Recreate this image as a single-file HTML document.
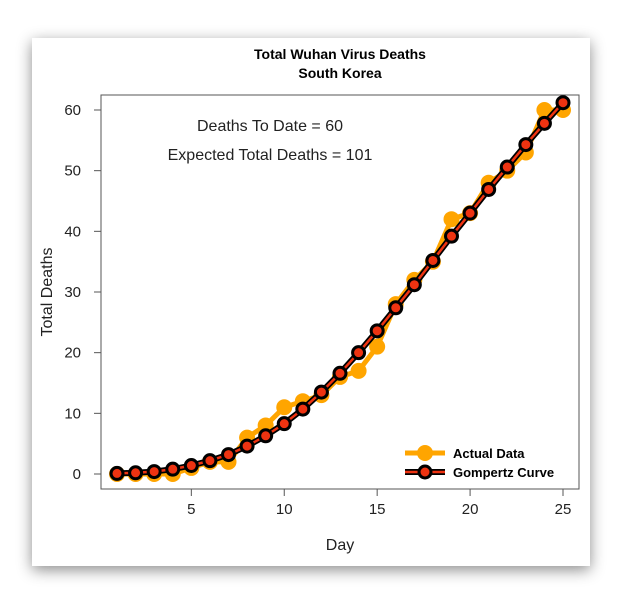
<!DOCTYPE html>
<html><head><meta charset="utf-8"><style>
body{margin:0;background:#fff;width:624px;height:600px;overflow:hidden;font-family:"Liberation Sans",sans-serif}
#card{position:absolute;left:32px;top:38px;width:558px;height:528px;background:#fff;box-shadow:0 4px 14px rgba(0,0,0,0.45)}
svg{position:absolute;left:0;top:0}
</style></head><body>
<div id="card"></div>
<svg id="chart" width="624" height="600"></svg>
<script>
const days=[1,2,3,4,5,6,7,8,9,10,11,12,13,14,15,16,17,18,19,20,21,22,23,24,25];
const actual=[0,0,0,0,1,2,2,6,8,11,12,13,16,17,21,28,32,35,42,43,48,50,53,60,60];
const gompertz=[0.1,0.2,0.4,0.8,1.4,2.2,3.2,4.6,6.3,8.3,10.7,13.5,16.6,20.0,23.6,27.4,31.2,35.2,39.2,43.0,46.9,50.6,54.3,57.8,61.2];
const xTicks=[5,10,15,20,25];
const yTicks=[0,10,20,30,40,50,60];
const NS="http://www.w3.org/2000/svg";
const svg=document.getElementById('chart');
const X=d=>117+(d-1)*(563-117)/24;
const Y=v=>474-v*(474-110)/60;
function mk(t,a,p){const e=document.createElementNS(NS,t);for(const k in a)e.setAttribute(k,a[k]);(p||svg).appendChild(e);return e;}
const box=mk('rect',{x:101,y:95,width:478,height:394,fill:'none',stroke:'#555','stroke-width':1});


function txt(s,x,y,o){const e=mk('text',Object.assign({x:x,y:y,'font-size':15,fill:'#222','text-anchor':'middle'},o||{}));e.textContent=s;return e;}
xTicks.forEach(t=>{mk('line',{x1:X(t),x2:X(t),y1:489,y2:496,stroke:'#555'});const e=txt(t,X(t),514);

});
yTicks.forEach(t=>{mk('line',{x1:94,x2:101,y1:Y(t),y2:Y(t),stroke:'#555'});const e=txt(t,81,Y(t)+5,{'text-anchor':'end'});

});
let e=txt('Day',340,550,{'font-size':16});


e=txt('Total Deaths',52,292,{'font-size':16,transform:'rotate(-90 52 292)'});


e=txt('Total Wuhan Virus Deaths',340,59,{'font-size':14,'font-weight':'bold',fill:'#000'});


e=txt('South Korea',340,78,{'font-size':14,'font-weight':'bold',fill:'#000'});


e=txt('Deaths To Date = 60',270,131,{'font-size':16});


e=txt('Expected Total Deaths = 101',270,160,{'font-size':16});


const ap=mk('polyline',{points:days.map((d,i)=>X(d)+','+Y(actual[i])).join(' '),fill:'none',stroke:'#ffa500','stroke-width':5});


days.forEach((d,i)=>{const c=mk('circle',{cx:X(d),cy:Y(actual[i]),r:8,fill:'#ffa500'});

});
const gp=days.map((d,i)=>X(d)+','+Y(gompertz[i])).join(' ');
mk('polyline',{points:gp,fill:'none',stroke:'#000','stroke-width':6});
const gl=mk('polyline',{points:gp,fill:'none',stroke:'#ee3311','stroke-width':2.5});


days.forEach((d,i)=>{const c=mk('circle',{cx:X(d),cy:Y(gompertz[i]),r:6,fill:'#ee3311',stroke:'#000','stroke-width':3});

});
const lg=mk('g',{});


mk('line',{x1:405,x2:445,y1:453,y2:453,stroke:'#ffa500','stroke-width':5},lg);
mk('circle',{cx:425,cy:453,r:8,fill:'#ffa500'},lg);
mk('line',{x1:405,x2:445,y1:472,y2:472,stroke:'#000','stroke-width':6},lg);
mk('line',{x1:405,x2:445,y1:472,y2:472,stroke:'#ee3311','stroke-width':2.5},lg);
mk('circle',{cx:425,cy:472,r:6,fill:'#ee3311',stroke:'#000','stroke-width':3},lg);
e=txt('Actual Data',453,458,{'font-size':13,'font-weight':'bold','text-anchor':'start',fill:'#000'});lg.appendChild(e);


e=txt('Gompertz Curve',453,477,{'font-size':13,'font-weight':'bold','text-anchor':'start',fill:'#000'});lg.appendChild(e);


</script>
</body></html>
